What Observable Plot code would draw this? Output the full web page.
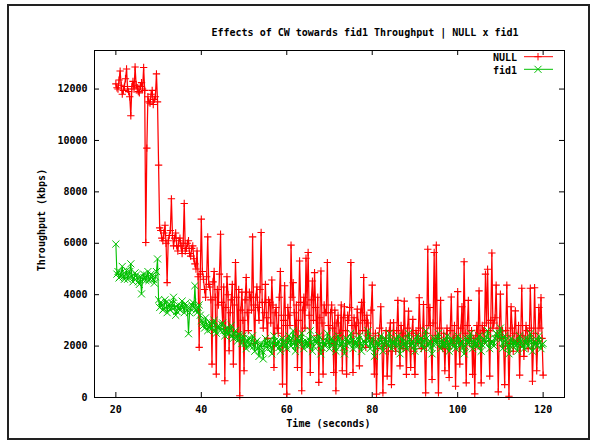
<!DOCTYPE html>
<html>
<head>
<meta charset="utf-8">
<script src="https://cdn.jsdelivr.net/npm/d3@7"></script>
<script src="https://cdn.jsdelivr.net/npm/@observablehq/plot@0.6"></script>
<style>
  html, body { margin: 0; padding: 0; background: #fff; }
  #wrap { position: relative; width: 592px; height: 442px; background: #fff; overflow: hidden;
          font-family: "DejaVu Sans Mono", "Liberation Mono", monospace; font-size: 10px; font-weight: bold; color: #000; }
  #chart { position: absolute; left: 0; top: 0; }
  .lbl { position: absolute; line-height: 12px; white-space: nowrap; text-align: center; }
  #border { position: absolute; left: 7px; top: 4px; width: 583px; height: 436px; border: 2px solid #222; box-sizing: border-box; pointer-events: none; }
  #legend { position: absolute; left: 480px; top: 48px; }
</style>
</head>
<body>
<div id="wrap">
  <div id="chart"></div>
  <div class="lbl" id="title" style="left:165px; width:400px; top:26.5px;"></div>
  <div class="lbl" id="ylabel" style="left:-58px; width:200px; top:214px; transform: rotate(-90deg); transform-origin: 100px 6px;"></div>
  <div class="lbl" id="xlabel" style="left:228.5px; width:200px; top:418.2px;"></div>
  <svg id="legend" width="80" height="30"></svg>
  <div id="border"></div>
</div>
<script>
// ---- Text ----
const titleText = "Effects of CW towards fid1 Throughput | NULL x fid1";
const xLabelText = "Time (seconds)";
const yLabelText = "Throughput (kbps)";
const seriesNames = ["NULL", "fid1"];

// ---- Ticks ----
const xTicks = [20, 40, 60, 80, 100, 120];
const yTicks = [0, 2000, 4000, 6000, 8000, 10000, 12000];

// ---- Sampling (seconds) ----
const tStart = 20;
const tStep = 0.25;

// ---- Series values (kbps), one per sample (rows of 5 s) ----
const nullKbps = [
  12200,12050,12000,12350,12700,12150,11800,11950,12100,12400,12780,12000,11900,11700,10960,12100,12300,12000,12860,12150,
  12050,11900,11850,12100,12250,12000,12840,11950,6030,9700,11700,11500,11450,11800,11950,11400,11600,11700,12590,11500,
  9040,6600,6500,6200,6100,6400,6700,6000,4470,6100,6300,6500,7730,6300,5900,6200,6400,5900,5700,6100,
  6200,5900,5600,6000,7550,5700,5800,6000,6100,5600,5500,5800,5900,5400,5200,5000,5700,4700,1950,4800,
  6940,4900,4600,4200,3900,4700,6250,4400,4300,3800,1300,4500,4900,3900,910,4200,3600,4800,6350,3700,
  2900,4300,650,3500,4700,4000,1820,3300,3800,4400,1300,3600,5250,3900,2400,4200,70,3400,4100,3000,
  1040,3800,4670,3300,2600,4100,3900,3400,6250,3600,2100,3900,4300,3500,3000,4200,6420,3700,2700,3300,
  4400,3100,2300,3800,3700,2900,4570,3600,1170,3300,3500,2700,2500,3900,4900,3200,520,3000,4350,2800,
  130,3500,3200,2800,5930,3900,4470,3300,2200,3600,1170,3000,5310,3700,260,3400,3900,2700,5420,3600,
  5640,3200,975,3800,4530,3000,4860,3500,2400,3900,590,3100,4920,2900,910,3600,3300,3300,5250,2800,
  2100,3300,3600,2700,975,3400,260,2900,3200,2500,2400,3600,1040,3100,3530,2600,910,3200,3000,3500,
  5250,2800,975,3100,2800,2500,3440,2900,1230,3300,3700,2600,4670,3000,1950,3200,2900,2400,2300,3400,
  4370,2200,910,2500,130,1900,2400,2700,3530,2300,180,2000,2100,2600,830,1800,2600,2900,500,2200,
  2910,2000,1800,2600,3780,2200,1230,2800,2500,1900,3750,2400,900,2700,3360,2100,1170,2500,3040,1800,
  900,2600,2400,2100,3880,2700,1900,2300,3620,2000,180,2500,5770,2800,3500,2200,700,2900,5640,2400,
  5930,2300,180,2700,3780,2000,1900,2500,1040,2200,2700,1900,780,2600,3910,2100,2200,2800,440,2400,
  4120,2200,1300,2700,3530,2000,5280,2500,570,2800,3780,2100,2300,2600,900,2300,140,2400,2800,2000,
  4150,2500,570,2800,2600,2200,4800,2900,4990,2600,830,3000,5620,2700,2900,3100,4370,2400,220,2700,
  4020,2300,2600,2000,500,2600,4370,2400,50,2100,3530,2700,1800,2500,3370,2200,2200,2800,870,2400,
  4250,2400,1600,2200,2800,2600,1900,2300,4250,2700,630,2100,4270,2500,1040,2200,3500,2700,3880,2300,
  870
];
const fid1Kbps = [
  5970,4800,4900,4650,4700,4850,5100,4700,4600,4800,4950,4600,4750,4900,5200,4700,4500,4650,4850,4750,
  4650,4500,4400,4700,4030,4600,4800,4650,4550,4750,4900,4550,4600,4800,4750,4600,4450,4700,4900,5390,
  3800,3500,3700,3600,3400,3450,3800,3700,3300,3550,3650,3400,3500,3650,3900,3500,3200,3350,3600,3450,
  3400,3550,3750,3500,3300,3650,3550,3400,2480,3300,3450,3600,3700,3500,4350,3400,3300,3500,3600,3200,
  3000,2900,2800,2700,3100,2850,2600,2750,2900,2650,2700,2900,3000,2600,2500,2750,2800,2700,2600,2850,
  2900,2600,2400,2550,2700,2450,2500,2650,2800,2400,2300,2500,2600,2350,2200,2450,2400,2300,2100,2400,
  2300,2100,1900,2200,2300,2050,2000,2250,2400,2000,1800,2150,2200,1900,1600,2000,2100,1800,1500,2050,
  2300,2100,1900,2050,2200,1950,1700,2150,2400,2200,2000,2100,2200,1950,1800,2050,2300,2150,2100,2000,
  1900,2150,2400,2200,2000,2300,2600,2100,1800,2050,2300,2200,2100,2300,2500,2150,1900,2050,2200,2100,
  2000,2250,2600,2150,1800,2000,2300,2200,2100,2250,2400,2050,1700,1950,2200,2100,2000,2200,2500,2150,
  1900,2100,2300,2200,2100,1950,1800,2100,2400,2250,2000,2100,2200,1950,1700,2050,2300,2200,2100,2150,
  2500,2200,1900,2050,2200,2100,2000,2250,2400,2100,1800,2000,2200,2150,2100,2300,2600,2200,1900,2100,
  2300,2000,1600,1950,2200,2100,2000,2200,2400,2150,1800,2050,2300,2250,2100,2000,2500,2200,1900,2150,
  2200,2100,2000,2250,2400,2050,1700,2000,2300,2200,2100,2000,1900,2150,2500,2250,2000,2100,2200,2000,
  1800,2100,2400,2200,2100,2250,2300,2050,1900,2200,2600,2300,2000,2100,2200,1950,1700,2050,2300,2200,
  2100,2300,2500,2150,1900,2050,2200,2100,2000,2200,2400,2050,1800,2100,2300,2150,2100,2000,1900,2150,
  2400,2200,2000,2100,2200,1950,1700,2000,2300,2200,2100,2300,2500,2150,1900,2050,2200,2100,2000,2200,
  2400,2100,1800,2050,2300,2200,2100,2350,2600,2250,1900,2100,2200,2150,2000,2300,2500,2450,2300,2500,
  2700,2300,1900,2150,2400,2250,2100,1950,1700,2000,2300,2150,2000,2100,2200,2050,1800,2100,2400,2200,
  2100,2000,1900,2150,2300,2100,2000,2250,2500,2200,1800,2050,2200,2100,2000,2200,2400,2150,1900,2050,
  2100
];

// ---- Colours ----
const nullColor = "#ff0000";
const fid1Color = "#00c000";

// Build tables for the library
const nullData = nullKbps.map((v, i) => ({t: tStart + i * tStep, v}));
const fid1Data = fid1Kbps.map((v, i) => ({t: tStart + i * tStep, v}));

const W = 592, H = 442;
const mL = 94, mR = 28, mT = 50, mB = 45;
const frameW = W - mL - mR, frameH = H - mT - mB;
const tickLen = 5;

const chart = Plot.plot({
  width: W,
  height: H,
  marginLeft: mL,
  marginRight: mR,
  marginTop: mT,
  marginBottom: mB,
  style: {
    fontFamily: '"DejaVu Sans Mono", "Liberation Mono", monospace',
    fontSize: "10px",
    fontWeight: "bold",
    background: "transparent",
    color: "#000",
    overflow: "visible"
  },
  x: {domain: [15, 125], ticks: xTicks, label: null},
  y: {domain: [0, 13500], ticks: yTicks, label: null},
  marks: [
    Plot.axisY({ticks: yTicks, tickSize: 0, tickPadding: 7, tickFormat: d => String(d), label: null}),
    Plot.axisX({ticks: xTicks, tickSize: 0, tickPadding: 8, tickFormat: d => String(d), label: null}),
    // inward ticks on all four sides (gnuplot style)
    Plot.tickY(yTicks, {y: d => d, insetRight: frameW - tickLen, stroke: "#000"}),
    Plot.tickY(yTicks, {y: d => d, insetLeft: frameW - tickLen, stroke: "#000"}),
    Plot.tickX(xTicks, {x: d => d, insetTop: frameH - tickLen, stroke: "#000"}),
    Plot.tickX(xTicks, {x: d => d, insetBottom: frameH - tickLen, stroke: "#000"}),
    // NULL series
    Plot.line(nullData, {x: "t", y: "v", stroke: nullColor, strokeWidth: 1.25}),
    Plot.dot(nullData, {x: "t", y: "v", symbol: "plus", r: 2.5, stroke: nullColor, strokeWidth: 1.1}),
    // fid1 series
    Plot.line(fid1Data, {x: "t", y: "v", stroke: fid1Color, strokeWidth: 1.1}),
    Plot.dot(fid1Data, {x: "t", y: "v", symbol: "times", r: 3.3, stroke: fid1Color, strokeWidth: 1}),
    Plot.frame({stroke: "#000", strokeWidth: 1})
  ]
});
document.getElementById("chart").appendChild(chart);

document.getElementById("title").textContent = titleText;
document.getElementById("xlabel").textContent = xLabelText;
document.getElementById("ylabel").textContent = yLabelText;

// Legend (text + sample line + marker)
const lg = d3.select("#legend");
const legendItems = [
  {name: seriesNames[0], color: nullColor, symbol: d3.symbolPlus, size: Math.PI * 2.5 * 2.5},
  {name: seriesNames[1], color: fid1Color, symbol: d3.symbolTimes, size: Math.PI * 3.3 * 3.3}
];
legendItems.forEach((it, i) => {
  const yc = 8.7 + i * 12.6;
  lg.append("text").attr("x", 37).attr("y", yc + 4.3).attr("text-anchor", "end")
    .attr("font-family", '"DejaVu Sans Mono", "Liberation Mono", monospace')
    .attr("font-size", 10).attr("font-weight", "bold").attr("fill", "#000").text(it.name);
  lg.append("line").attr("x1", 44).attr("x2", 73).attr("y1", yc).attr("y2", yc)
    .attr("stroke", it.color).attr("stroke-width", 1);
  lg.append("path").attr("d", d3.symbol(it.symbol, it.size)())
    .attr("transform", `translate(58,${yc})`).attr("fill", "none")
    .attr("stroke", it.color).attr("stroke-width", 1);
});
</script>
</body>
</html>
